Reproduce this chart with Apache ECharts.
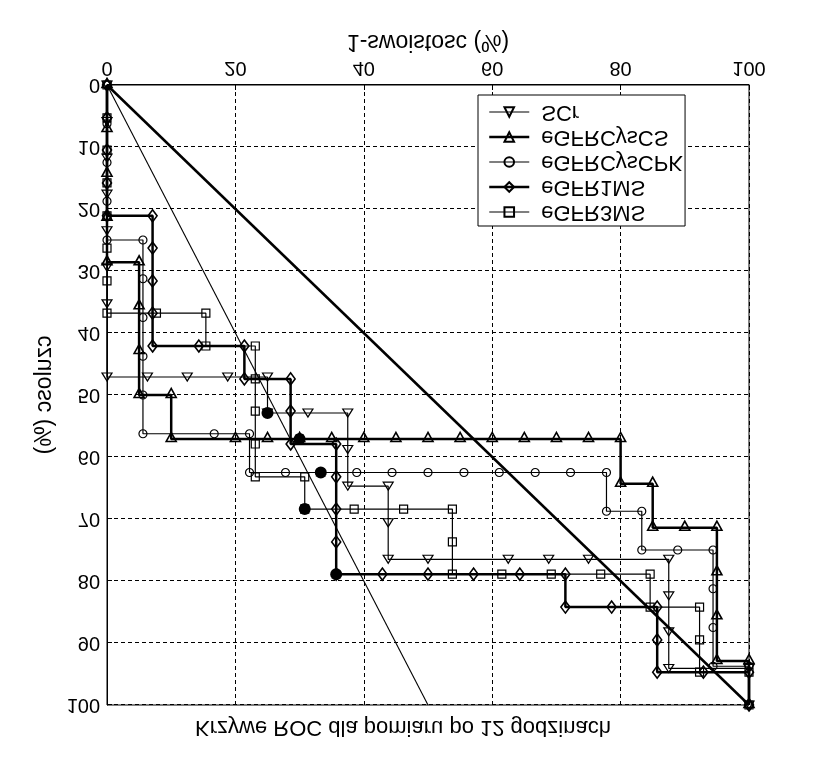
<!DOCTYPE html>
<html>
<head>
<meta charset="utf-8">
<script src="https://cdn.jsdelivr.net/npm/echarts@6/dist/echarts.min.js"></script>
<style>
html,body{margin:0;padding:0;background:#fff;}
#chart{width:826px;height:762px;transform:scaleY(-1);}
</style>
</head>
<body>
<div id="chart"></div>
<script>
// ---- data (x = 1-swoistosc %, y = czulosc %) ----
const titleText = 'Krzywe ROC dla pomiaru po 12 godzinach';
const xAxisName = '1-swoistosc (%)';
const yAxisName = 'czulosc (%)';
const legendOrder = ['eGFR3MS', 'eGFR1MS', 'eGFRCysCPK', 'eGFRCysCS', 'SCr'];
const thickSeries = ['eGFR1MS', 'eGFRCysCS'];

const scrPoints = [
  [0,0],[0,5.9],[0,11.8],[0,17.6],[0,23.5],[0,29.4],[0,35.3],[0,47.1],
  [6.3,47.1],[12.5,47.1],[18.8,47.1],[25,47.1],[25,52.9],[31.3,52.9],[37.5,52.9],
  [37.5,58.8],[37.5,64.7],[43.8,64.7],[43.8,70.6],[43.8,76.5],[50,76.5],[62.5,76.5],
  [68.8,76.5],[75,76.5],[87.5,76.5],[87.5,82.4],[87.5,88.2],[87.5,94.1],[100,94.1],[100,100]
];
const cysCSPoints = [
  [0,0],[0,7.1],[0,14.3],[0,21.4],[0,28.6],[5,28.6],[5,35.7],[5,42.9],[5,50],[10,50],
  [10,57.1],[20,57.1],[25,57.1],[30,57.1],[35,57.1],[40,57.1],[45,57.1],[50,57.1],
  [55,57.1],[60,57.1],[65,57.1],[70,57.1],[75,57.1],[80,57.1],[80,64.3],[85,64.3],
  [85,71.4],[90,71.4],[95,71.4],[95,78.6],[95,85.7],[95,92.9],[100,92.9],[100,100]
];
const cysCPKPoints = [
  [0,0],[0,6.25],[0,12.5],[0,18.75],[0,25],[5.6,25],[5.6,31.25],[5.6,37.5],[5.6,43.75],
  [5.6,50],[5.6,56.25],[16.7,56.25],[22.2,56.25],[22.2,62.5],[27.8,62.5],[33.3,62.5],
  [38.9,62.5],[44.4,62.5],[50,62.5],[55.6,62.5],[61.1,62.5],[66.7,62.5],[72.2,62.5],
  [77.8,62.5],[77.8,68.75],[83.3,68.75],[83.3,75],[88.9,75],[94.4,75],[94.4,81.25],
  [94.4,87.5],[94.4,93.75],[100,93.75],[100,100]
];
const egfr1Points = [
  [0,0],[0,5.3],[0,10.5],[0,15.8],[0,21.1],[7.1,21.1],[7.1,26.3],[7.1,31.6],[7.1,36.8],
  [7.1,42.1],[14.3,42.1],[21.4,42.1],[21.4,47.4],[28.6,47.4],[28.6,52.6],[28.6,57.9],
  [35.7,57.9],[35.7,63.2],[35.7,68.4],[35.7,73.7],[35.7,78.9],[42.9,78.9],[50,78.9],
  [57.1,78.9],[64.3,78.9],[71.4,78.9],[71.4,84.2],[78.6,84.2],[85.7,84.2],[85.7,89.5],
  [85.7,94.7],[92.9,94.7],[100,94.7],[100,100]
];
const egfr3Points = [
  [0,0],[0,5.3],[0,10.5],[0,15.8],[0,21.1],[0,26.3],[0,31.6],[0,36.8],[7.7,36.8],
  [15.4,36.8],[15.4,42.1],[23.1,42.1],[23.1,47.4],[23.1,52.6],[23.1,57.9],[23.1,63.2],
  [30.8,63.2],[30.8,68.4],[38.5,68.4],[46.2,68.4],[53.8,68.4],[53.8,73.7],[53.8,78.9],
  [61.5,78.9],[69.2,78.9],[76.9,78.9],[84.6,78.9],[84.6,84.2],[92.3,84.2],[92.3,89.5],
  [92.3,94.7],[100,94.7],[100,100]
];
const optimalPoints = [[25,52.9],[30,57.1],[33.3,62.5],[30.8,68.4],[35.7,78.9]];
const diagonalLine = [[0,0],[100,100]];
const steepLine = [[0,0],[50,100]];

// ---- chart ----
const FONT = "'Liberation Sans', Arial, Helvetica, sans-serif";
const chart = echarts.init(document.getElementById('chart'), null, {renderer: 'canvas'});

function curve(name, data, symbol, size, extra) {
  const thick = thickSeries.indexOf(name) >= 0;
  return Object.assign({
    name: name, type: 'line', data: data,
    symbol: symbol, symbolSize: size, showAllSymbol: true,
    lineStyle: {color: '#000', width: thick ? 2.5 : 1.2},
    itemStyle: {color: 'rgba(255,255,255,0)', borderColor: '#000', borderWidth: thick ? 1.6 : 1.2},
    emphasis: {disabled: true},
    animation: false, z: 3
  }, extra || {});
}

const axisCommon = {
  type: 'value', min: 0, max: 100,
  nameLocation: 'middle',
  nameTextStyle: {fontSize: 23, color: '#000', fontFamily: FONT},
  axisLine: {show: true, onZero: false, lineStyle: {color: '#000', width: 1}},
  axisTick: {show: true, inside: true, length: 5, lineStyle: {color: '#000'}},
  axisLabel: {fontSize: 20, color: '#000', fontFamily: FONT, margin: 7},
  splitLine: {show: true, lineStyle: {color: '#000', width: 1, type: [4, 3]}}
};

chart.setOption({
  animation: false,
  backgroundColor: '#fff',
  grid: {left: 107, right: 77, top: 57, bottom: 85, show: true, borderColor: '#000', borderWidth: 1, backgroundColor: 'transparent'},
  graphic: [{
    type: 'text', x: 403, y: 35,
    style: {text: titleText, font: '22px ' + FONT, fill: '#000',
      textAlign: 'center', align: 'center', textVerticalAlign: 'middle', verticalAlign: 'middle'}
  }],
  xAxis: Object.assign({}, axisCommon, {interval: 20, position: 'bottom', name: xAxisName, nameGap: 31}),
  yAxis: Object.assign({}, axisCommon, {interval: 10, position: 'left', name: yAxisName, nameGap: 45}),
  legend: {
    data: legendOrder.map(function (n) {
      return {name: n, lineStyle: {width: thickSeries.indexOf(n) >= 0 ? 2.5 : 1.2}};
    }),
    orient: 'vertical', left: 478, top: 536,
    itemWidth: 40, itemHeight: 12, itemGap: 3,
    padding: [3, 2, 6, 10],
    borderColor: '#000', borderWidth: 1, backgroundColor: '#fff',
    textStyle: {fontSize: 22, color: '#000', fontFamily: FONT, padding: [0, 0, 0, 7]},
    selectedMode: false
  },
  series: [
    {type: 'line', data: diagonalLine, symbol: 'none', lineStyle: {color: '#000', width: 2.5}, silent: true, z: 2},
    {type: 'line', data: steepLine, symbol: 'none', lineStyle: {color: '#000', width: 1.1}, silent: true, z: 2},
    curve('SCr', scrPoints, 'triangle', [10, 8]),
    curve('eGFRCysCS', cysCSPoints, 'triangle', [10, 9], {symbolRotate: 180, symbolOffset: [0, 2]}),
    curve('eGFRCysCPK', cysCPKPoints, 'circle', 8),
    curve('eGFR1MS', egfr1Points, 'diamond', [9, 12]),
    curve('eGFR3MS', egfr3Points, 'rect', 8),
    {type: 'scatter', data: optimalPoints, symbol: 'circle', symbolSize: 12,
     itemStyle: {color: '#000', opacity: 1}, z: 10, silent: true}
  ]
});
</script>
</body>
</html>
